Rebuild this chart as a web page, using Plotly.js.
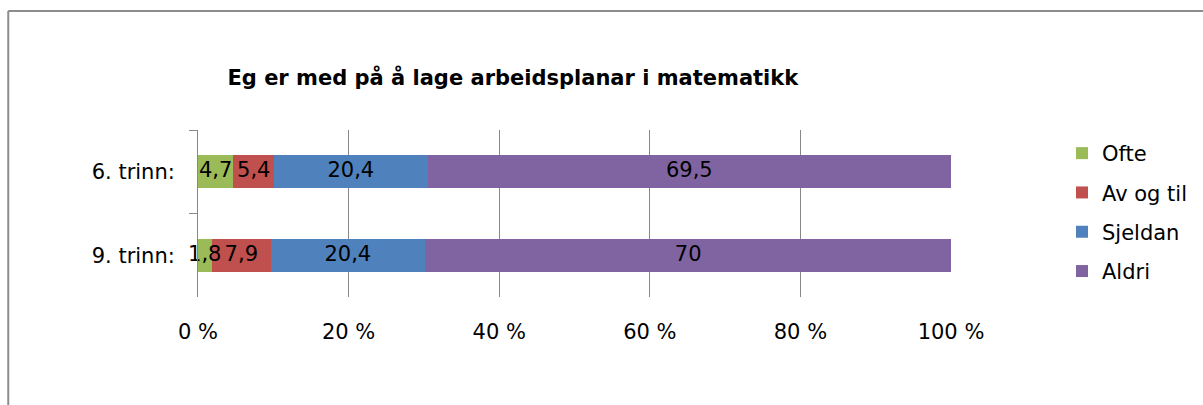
<!DOCTYPE html>
<html>
<head>
<meta charset="utf-8">
<script src="https://cdn.plot.ly/plotly-3.0.1.min.js"></script>
<style>
html,body{margin:0;padding:0;background:#fff;}
#chart{width:1203px;height:405px;}
</style>
</head>
<body>
<div id="chart"></div>
<script>
const categories = ["6. trinn:", "9. trinn:"];
const seriesNames = ["Ofte", "Av og til", "Sjeldan", "Aldri"];
const ofte = [4.7, 1.8];
const avOgTil = [5.4, 7.9];
const sjeldan = [20.4, 20.4];
const aldri = [69.5, 70];
const xTickVals = [0, 20, 40, 60, 80, 100];
const xTickText = ["0 %", "20 %", "40 %", "60 %", "80 %", "100 %"];
const colors = ["#9BBB59", "#C0504D", "#4F81BD", "#8064A2"];

const FONT = "DejaVu Sans, sans-serif";
const FS = 21;
const values = [ofte, avOgTil, sjeldan, aldri];
const fmt = v => String(v).replace('.', ',');

const traces = values.map((vals, i) => ({
  type: 'bar',
  orientation: 'h',
  name: seriesNames[i],
  legendgroup: 'g' + i,
  y: categories,
  x: vals,
  marker: {color: colors[i], line: {width: 0}},
  hoverinfo: 'none'
}));

// data labels drawn on top of all bars, centred in each segment
const lx = [], ly = [], lt = [];
categories.forEach((c, ci) => {
  let cum = 0;
  values.forEach(vals => {
    const v = vals[ci];
    lx.push(cum + v / 2); ly.push(c); lt.push(fmt(v));
    cum += v;
  });
});
traces.push({
  type: 'scatter', mode: 'text',
  x: lx, y: ly, text: lt,
  textposition: 'middle center',
  textfont: {family: FONT, size: FS, color: '#000'},
  showlegend: false, cliponaxis: false, hoverinfo: 'none'
});

const L = 198, R = 952, T = 130, B = 297;
const pw = R - L, ph = B - T;
const px = x => (x - L) / pw;
const py = y => 1 - (y - T) / ph;

const layout = {
  width: 1203, height: 405,
  margin: {l: L, r: 1203 - R, t: T, b: 405 - B, pad: 0},
  paper_bgcolor: '#fff', plot_bgcolor: '#fff',
  barmode: 'stack',
  bargap: 0.6,
  showlegend: true,
  font: {family: FONT, size: FS, color: '#000'},
  title: {
    text: '<b>Eg er med på å lage arbeidsplanar i matematikk</b>',
    font: {family: FONT, size: 21, color: '#000'},
    x: 503 / 1203, xanchor: 'center', xref: 'paper',
    y: 1 - 78 / 405, yanchor: 'middle'
  },
  xaxis: {
    range: [0, 100],
    tickvals: xTickVals,
    ticktext: xTickText,
    showgrid: true, gridcolor: '#888', gridwidth: 1,
    zeroline: false, showline: false, ticks: '',
    tickfont: {family: FONT, size: FS, color: '#000'},
    ticklabelstandoff: 20,
    fixedrange: true
  },
  yaxis: {
    type: 'category',
    autorange: 'reversed',
    showline: true, linecolor: '#888', linewidth: 1,
    ticks: 'outside', tickson: 'boundaries', ticklen: 8, tickcolor: '#888',
    showgrid: false, zeroline: false,
    tickfont: {family: FONT, size: FS, color: '#000'},
    ticklabelstandoff: 18,
    fixedrange: true
  },
  legend: {
    x: px(1062), xanchor: 'left',
    y: py(133), yanchor: 'top',
    traceorder: 'grouped',
    tracegroupgap: 9,
    font: {family: FONT, size: FS, color: '#000'},
    itemwidth: 30,
    bgcolor: 'rgba(0,0,0,0)'
  },
  shapes: [
    {type: 'line', xref: 'paper', yref: 'paper', x0: px(8), x1: px(1210), y0: py(11), y1: py(11), line: {color: '#8c8c8c', width: 2}},
    {type: 'line', xref: 'paper', yref: 'paper', x0: px(8), x1: px(8), y0: py(11), y1: py(410), line: {color: '#8c8c8c', width: 2}}
  ]
};

Plotly.newPlot('chart', traces, layout, {displayModeBar: false, staticPlot: true});
</script>
</body>
</html>
